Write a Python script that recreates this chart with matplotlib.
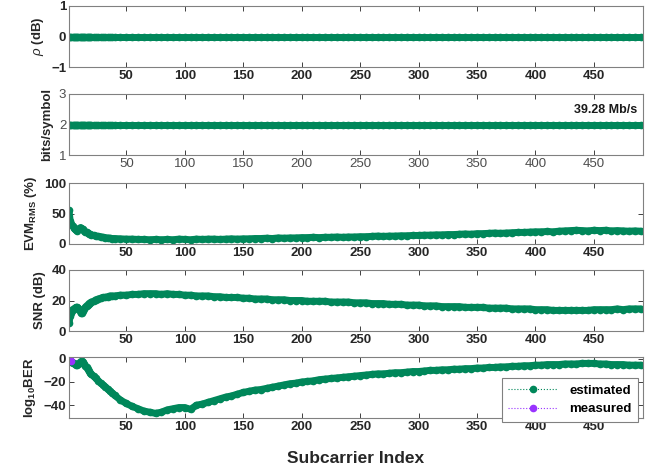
import numpy as np
import matplotlib
matplotlib.use('Agg')
import matplotlib.pyplot as plt

plt.rcParams['font.family'] = ['Liberation Sans', 'DejaVu Sans']
plt.rcParams['mathtext.fontset'] = 'custom'
plt.rcParams['mathtext.rm'] = 'Liberation Sans'
plt.rcParams['mathtext.it'] = 'Liberation Sans:italic'
plt.rcParams['mathtext.bf'] = 'Liberation Sans:bold'

# subcarrier indices (denser at the start where the curves move fast)
sc = list(range(1, 21)) + list(range(22, 42, 2)) + list(range(45, 495, 5))

rho_db = [0.0] * len(sc)
bits = [2.0] * len(sc)

evm = [55, 38, 33, 30, 27, 24, 23, 22, 24, 26, 27, 25, 24, 22, 20, 19, 18, 17, 16, 15,
       14, 13, 12.5, 12, 11, 10.5, 10, 9.5, 9, 9,
       8.5, 8, 8, 7.5, 7.5, 7, 7.5, 7, 7.5, 7, 8, 7.5, 7, 8, 7.5, 8, 8, 7.5, 8, 8.5,
       8, 8.5, 8.5, 9, 9, 9.5, 9, 10, 9.5, 10, 10, 10.5, 10.5, 11, 10.5, 11, 11, 11.5, 11, 11.5,
       11.5, 12, 12, 12.5, 13, 12.5, 13, 13, 13.5, 13.5, 14, 14, 14.5, 14.5, 15, 15, 15.5, 15.5, 16, 16.5,
       16, 17, 17, 17.5, 18, 17.5, 18, 18.5, 19, 19, 19.5, 20, 20, 20.5, 20, 21, 21.5, 22, 22.5, 22,
       21.5, 22.5, 22, 22.5, 21.5, 22, 21.5, 21, 21.5, 21]

snr = [5, 10, 12, 14, 14.5, 15, 15.5, 15.5, 15, 13.5, 12, 11.5, 13, 14.5, 15.5, 16.5, 17, 18, 18.5, 19,
       19.5, 20.5, 21, 21.5, 22, 22, 22.5, 23, 23, 23,
       23.5, 23.5, 24, 24, 24.5, 24.5, 24.5, 24, 24.5, 24, 24, 23.5, 23.5, 23, 23, 23, 22.5, 22.5, 22, 22,
       22, 21.5, 21.5, 21, 21, 21, 20.5, 20.5, 20.5, 20, 20, 20, 19.5, 19.5, 19.5, 19.5, 19, 19, 19, 19,
       18.5, 18.5, 18.5, 18, 18, 18, 17.5, 17.5, 17.5, 17, 17, 17, 16.5, 16.5, 16.5, 16, 16, 16, 16, 15.5,
       15.5, 15.5, 15.5, 15, 15, 15, 15, 14.5, 14.5, 14.5, 14.5, 14, 14, 14, 13.5, 13.5, 13.5, 13.5, 13.5, 13.5,
       13.5, 14, 14, 14, 14, 14.5, 14, 14.5, 14.5, 14.5]

ber_est = [-0.5, -1.5, -2.5, -3.5, -4, -4.5, -5, -5, -4.5, -3.5, -2.5, -2, -3, -4.5, -6, -7.5, -9, -10.5, -12, -13.5,
           -15, -17, -19, -21, -22.5, -24, -26, -28, -29.5, -31.5,
           -35.5, -38.5, -41, -43, -45, -46, -47, -46, -44, -43, -42, -42, -43.5, -40, -39, -37.5, -36, -34.5, -33, -32,
           -30.5, -29, -28, -27, -26.5, -25.5, -24.5, -23.5, -22.5, -21.5, -21, -20, -19.5, -19, -18, -17.5, -17, -16.5, -16, -15.5,
           -15, -14.5, -14, -13.5, -13, -13, -12.5, -12, -12, -11.5, -11, -11, -10.5, -10, -10, -9.5, -9.5, -9, -9, -8.5,
           -8.5, -8, -8, -7.5, -7.5, -7, -7, -6.5, -6.5, -6, -6, -5.5, -5.5, -5, -5, -5, -4.5, -4.5, -4.5, -4,
           -4, -4, -4.5, -4.5, -5, -5, -5, -5.5, -5.5, -5.5]

sc_meas = [1, 2, 3]
ber_meas = [0, -1, -2]

rate_text = '39.28 Mb/s'

green = '#00875A'
purple = '#9933FF'

fig = plt.figure(figsize=(6.6, 4.7), dpi=100)
W, H = 660.0, 470.0
tops = [6, 94, 183, 270, 357]
ph = 61
axs = []
for t in tops:
    axs.append(fig.add_axes([69 / W, 1 - (t + ph) / H, 574 / W, ph / H]))

series = [rho_db, bits, evm, snr, ber_est]
ylims = [(-1, 1), (1, 3), (0, 100), (0, 40), (-51, 1.5)]
yticks = [[-1, 0, 1], [1, 2, 3], [0, 50, 100], [0, 20, 40], [-40, -20, 0]]
ylabels = [r'$\rho$ (dB)', 'bits/symbol', r'$\mathbf{EVM_{RMS}}$ (%)', 'SNR (dB)', r'$\mathbf{log_{10}BER}$']

for i, ax in enumerate(axs):
    # thick band underneath so the dense markers read as one trace
    ax.plot(sc, series[i], '-', color=green, linewidth=5, solid_capstyle='round')
    ax.plot(sc, series[i], ':', color=green, marker='o', markersize=5.5,
            markeredgewidth=0, linewidth=0.8, label='estimated')
    ax.set_xlim(1, 492)
    ax.set_ylim(*ylims[i])
    ax.set_xticks([50, 100, 150, 200, 250, 300, 350, 400, 450])
    ax.set_yticks(yticks[i])
    for s in ax.spines.values():
        s.set_color('0.5')
        s.set_linewidth(0.8)
    bold = (i != 1)
    ax.tick_params(direction='in', top=True, right=True, length=3.5, width=0.7,
                   color='0.25', labelsize=9.5, labelcolor='0.15' if bold else '0.3', pad=2)
    for lab in ax.get_xticklabels() + ax.get_yticklabels():
        lab.set_fontweight('bold' if bold else 'normal')
    ax.set_ylabel(ylabels[i], fontsize=9.5, fontweight='bold', color='0.15', labelpad=4)

axs[1].text(0.99, 0.73, rate_text, transform=axs[1].transAxes, ha='right', va='center',
            fontsize=9, fontweight='bold', color='0.1')

axs[4].plot(sc_meas, ber_meas, ':', color=purple, marker='o', markersize=5.5,
            markeredgewidth=0, linewidth=0.8, label='measured')
axs[4].set_xlabel('Subcarrier Index', fontsize=12.5, fontweight='bold', color='0.15', labelpad=13)

leg = axs[4].legend(loc='lower right', bbox_to_anchor=(638 / W, 1 - 422 / H),
                    bbox_transform=fig.transFigure, borderaxespad=0, fancybox=False,
                    edgecolor='0.5', framealpha=1, handlelength=3.8,
                    prop={'size': 9.5, 'weight': 'bold'}, labelspacing=0.5, borderpad=0.5)
leg.get_frame().set_linewidth(0.8)

fig.savefig('out.png', dpi=100)
